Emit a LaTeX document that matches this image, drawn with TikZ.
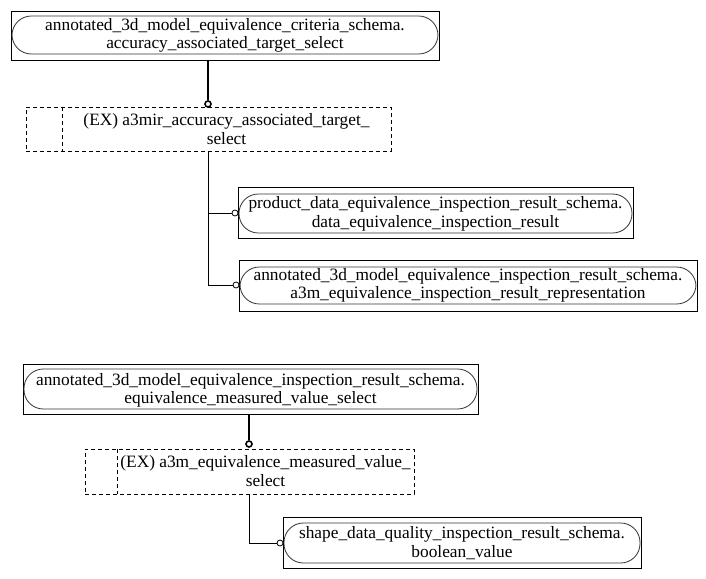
\documentclass[tikz,border=0pt]{standalone}
\usepackage{fontspec}
\setmainfont{Liberation Serif}
\usetikzlibrary{fit}
\tikzset{
 outerbox/.style={draw, line width=0.75pt, inner sep=0pt},
 entbox/.style={draw=black!80, line width=0.6pt, rounded corners=14.5pt, inner sep=0pt},
 selbox/.style={draw, line width=0.75pt, dash pattern=on 3pt off 2.25pt, inner sep=0pt},
 lbl/.style={align=center, font=\fontsize{13}{13.8}\selectfont, inner sep=0pt},
 thickconn/.style={line width=1.5pt},
 thinconn/.style={line width=0.75pt},
 thickcirc/.style={circle, draw, fill=white, line width=1.2pt, inner sep=0pt, minimum size=4.5pt},
 thincirc/.style={circle, draw, fill=white, line width=0.6pt, inner sep=0pt, minimum size=4.5pt},
}
\begin{document}
\begin{tikzpicture}[x=0.75pt,y=-0.75pt]
\useasboundingbox (0,0) rectangle (706,578);
% A
\node[outerbox, fit={(11,11)(439,60)}] (A) {};
\node[entbox, fit={(12,16)(438,54)}] (Ai) {};
\node[lbl] (At) at (225,35.5) {annotated\_3d\_model\_equivalence\_criteria\_schema.\\accuracy\_associated\_target\_select};
% B
\node[selbox, fit={(26,107)(391,151)}] (B) {};
\draw[selbox] (62,107) -- (62,151);
\node[lbl] (Bt) at (226.5,129) {(EX) a3mir\_accuracy\_associated\_target\_\\select};
% D
\node[outerbox, fit={(238,187)(633,238)}] (D) {};
\node[entbox, fit={(239,194)(632,233)}] (Di) {};
\node[lbl] (Dt) at (435.5,214) {product\_data\_equivalence\_inspection\_result\_schema.\\data\_equivalence\_inspection\_result};
% E
\node[outerbox, fit={(239,260)(697,311)}] (E) {};
\node[entbox, fit={(240,267)(696,304)}] (Ei) {};
\node[lbl] (Et) at (468,285.5) {annotated\_3d\_model\_equivalence\_inspection\_result\_schema.\\a3m\_equivalence\_inspection\_result\_representation};
% C
\node[outerbox, fit={(23,364)(478,414)}] (C) {};
\node[entbox, fit={(24,369)(477,409)}] (Ci) {};
\node[lbl] (Ct) at (250.5,390.5) {annotated\_3d\_model\_equivalence\_inspection\_result\_schema.\\equivalence\_measured\_value\_select};
% F
\node[selbox, fit={(85,449)(414,494)}] (F) {};
\draw[selbox] (117,449) -- (117,494);
\node[lbl] (Ft) at (265.5,471) {(EX) a3m\_equivalence\_measured\_value\_\\select};
% G
\node[outerbox, fit={(283,517)(641,568)}] (G) {};
\node[entbox, fit={(284,523)(640,563)}] (Gi) {};
\node[lbl] (Gt) at (462,543) {shape\_data\_quality\_inspection\_result\_schema.\\boolean\_value};
% connectors
\node[thickcirc] (c1) at (208,104) {};
\node[thincirc] (c2) at (235,213) {};
\node[thincirc] (c3) at (236,285) {};
\node[thickcirc] (c4) at (249,444) {};
\node[thincirc] (c5) at (280,543) {};
\draw[thickconn] (A.south -| c1) -- (c1.north);
\draw[thinconn] (B.south -| c1) |- (c2.west);
\draw[thinconn] (B.south -| c1) |- (c3.west);
\draw[thickconn] (C.south -| c4) -- (c4.north);
\draw[thinconn] (F.south -| c4) |- (c5.west);
\end{tikzpicture}
\end{document}
